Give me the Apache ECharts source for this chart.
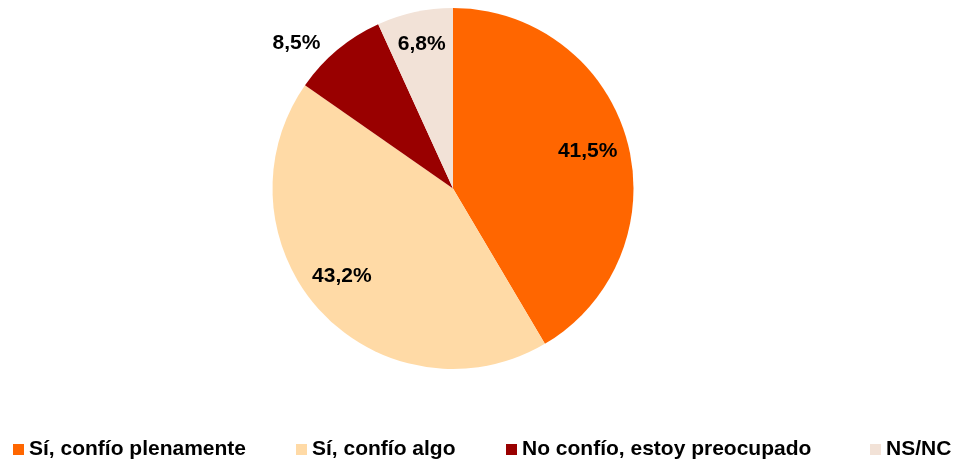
<!DOCTYPE html>
<html>
<head>
<meta charset="utf-8">
<script src="https://cdn.jsdelivr.net/npm/echarts@6/dist/echarts.min.js"></script>
<style>
  html, body { margin: 0; padding: 0; background: #ffffff; }
  #chart { width: 957px; height: 464px; }
</style>
</head>
<body>
<div id="chart"></div>
<script>
// Answer categories and their shares (%)
const categories = ['Sí, confío plenamente', 'Sí, confío algo', 'No confío, estoy preocupado', 'NS/NC'];
const shares = [41.5, 43.2, 8.5, 6.8];
const sliceColors = ['#ff6600', '#ffdaa6', '#990000', '#f2e2d7'];

// Where each value label sits, as a fraction of the pie radius (null = outside the slice)
const labelReach = [0.757, 0.77, null, 0.80];
const legendLeft = [13, 296, 506, 870];

const R = 180.5;
const center = [453, 188.5];
const font = { fontFamily: '"Liberation Sans", Arial, sans-serif', fontWeight: 'bold', fontSize: 21, color: '#000000' };
const fmt = v => v.toFixed(1).replace('.', ',') + '%';

const mainData = categories.map((name, i) => {
  const item = { name, value: shares[i], itemStyle: { color: sliceColors[i] } };
  if (labelReach[i] === null) {
    item.label = { show: true, position: 'outside', ...font, formatter: p => fmt(p.value) };
    item.labelLine = { show: false, length: 8, length2: 7 };
  }
  return item;
});

const series = [{
  type: 'pie',
  center: center,
  radius: [0, R],
  startAngle: 90,
  clockwise: true,
  animation: false,
  silent: true,
  label: { show: false },
  labelLine: { show: false },
  emphasis: { disabled: true },
  data: mainData
}];

// Transparent companions that place the inside labels at their own distance from the centre
labelReach.forEach((reach, k) => {
  if (reach === null) return;
  series.push({
    type: 'pie',
    center: center,
    radius: [0, 2 * reach * R],
    startAngle: 90,
    clockwise: true,
    animation: false,
    silent: true,
    emphasis: { disabled: true },
    itemStyle: { color: 'rgba(0,0,0,0)', borderWidth: 0 },
    label: { show: false },
    labelLine: { show: false },
    labelLayout: k === 1 ? { dx: -7, dy: -9 } : undefined,
    data: categories.map((name, i) => ({
      name,
      value: shares[i],
      label: { show: i === k, position: 'inside', ...font, formatter: p => fmt(p.value) }
    }))
  });
});

const legends = categories.map((name, i) => ({
  data: [name],
  left: legendLeft[i],
  top: 439,
  padding: 0,
  icon: 'rect',
  itemWidth: 11,
  itemHeight: 11,
  selectedMode: false,
  textStyle: { ...font }
}));

const chart = echarts.init(document.getElementById('chart'), null, { renderer: 'canvas' });
chart.setOption({
  backgroundColor: '#ffffff',
  animation: false,
  legend: legends,
  series: series
});
</script>
</body>
</html>
